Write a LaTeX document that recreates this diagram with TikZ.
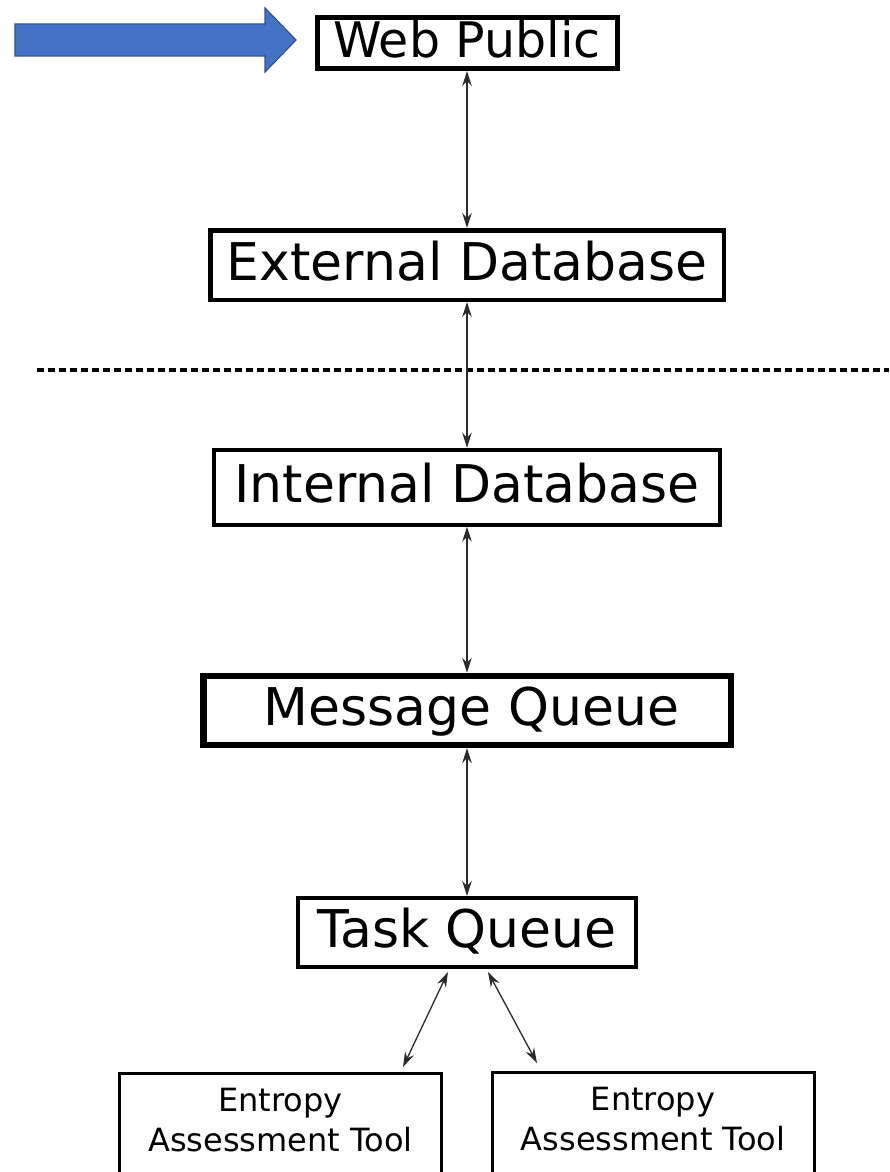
\documentclass[tikz,border=0pt]{standalone}
\usepackage{fontspec}
\newfontfamily\boxfont{DejaVu Sans}
\usetikzlibrary{arrows.meta,calc}
\definecolor{arrowblue}{HTML}{4472C4}
\definecolor{arrowedge}{HTML}{2F528F}
\definecolor{linkgray}{HTML}{2B2B2B}

\begin{document}
\begin{tikzpicture}[x=1pt,y=-1pt,
  tier/.style={draw=black, fill=white, rectangle, inner sep=0pt,
    font=\boxfont\fontsize{52}{62}\selectfont, text height=38pt, text depth=8pt},
  tool/.style={draw=black, fill=white, rectangle, line width=3pt,
    inner xsep=0pt, inner ysep=15pt, align=center, anchor=north,
    font=\boxfont\fontsize{32}{40}\selectfont, minimum width=322pt},
  tip/.tip={Stealth[length=15pt,width=9.5pt,inset=5pt]},
  link/.style={draw=linkgray, line width=1.3pt, tip-tip},
  boundary/.style={line width=4.5pt, dash pattern=on 7pt off 4pt},
]
\useasboundingbox (0,0) rectangle (889,1172);
\fill[white] (0,0) rectangle (889,1172);

% entry arrow into the public web tier
\filldraw[fill=arrowblue, draw=arrowedge, line width=1.2pt, line join=miter]
  (15,24) -- (265,24) -- (265,8) -- (296,40) -- (265,72) -- (265,56) -- (15,56) -- cycle;

% stack of tiers
\node[tier, line width=5pt,   minimum width=300pt,   minimum height=51pt,
      font=\boxfont\fontsize{49}{59}\selectfont, text height=36pt, text depth=7pt] (web) at (467,43) {Web Public};
\node[tier, line width=4.5pt, minimum width=513.5pt, minimum height=69.5pt] (ext) at (467,265)   {External Database};
\node[tier, line width=4pt,   minimum width=506.6pt, minimum height=75pt]   (int) at (467,487.2) {Internal Database};
\node[tier, line width=6.5pt, minimum width=527.5pt, minimum height=68.8pt] (mq)  at (467,710.4) {\hspace*{9pt}Message Queue};
\node[tier, line width=4.3pt, minimum width=337.7pt, minimum height=68.7pt] (tq)  at (467,932.5) {Task Queue};

% worker tools (boxes run past the bottom edge)
\node[tool] (el) at (280.5,1072) {Entropy\\Assessment Tool\rule[-20pt]{0pt}{0pt}};
\node[tool] (er) at (653,1071)   {Entropy\\Assessment Tool\rule[-20pt]{0pt}{0pt}};

% network boundary
\coordinate (bl) at (37,370);
\coordinate (br) at (889,370);
\draw[boundary] (bl) -- (br);

% links
\draw[link] (web.south) -- (ext.north);
\draw[link] (ext.south) -- (int.north);
\draw[link] (int.south) -- (mq.north);
\draw[link] (mq.south)  -- (tq.north);
\draw[link] ($(tq.south)+(-19,3)$) -- ($(el.north)+(122.5,-5)$);
\draw[link] ($(tq.south)+(21,3)$)  -- ($(er.north)+(-116,-8)$);
\end{tikzpicture}
\end{document}
